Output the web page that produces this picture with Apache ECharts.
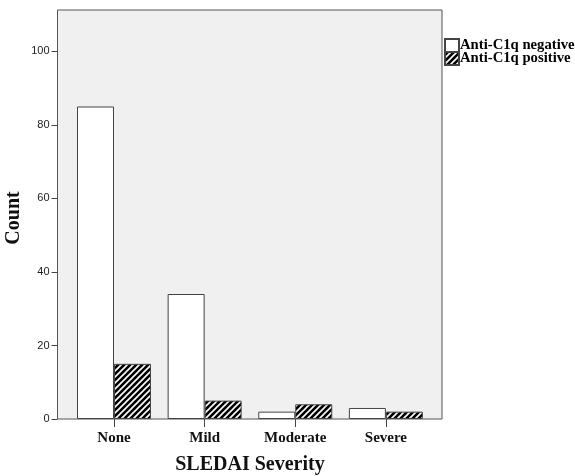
<!DOCTYPE html>
<html>
<head>
<meta charset="utf-8">
<script src="https://cdn.jsdelivr.net/npm/echarts@6/dist/echarts.min.js"></script>
<style>html,body{margin:0;padding:0;background:#fff;}#c{width:575px;height:476px;}</style>
</head>
<body>
<div id="c"></div>
<script>
var categories = ['None', 'Mild', 'Moderate', 'Severe'];
var negativeValues = [85, 34, 2, 3];
var positiveValues = [15, 5, 4, 2];
var seriesNames = ['Anti-C1q negative', 'Anti-C1q positive'];
var yTicks = [0, 20, 40, 60, 80, 100];

function makeHatch() {
  var s = 6;
  var cv = document.createElement('canvas');
  cv.width = s; cv.height = s;
  var ctx = cv.getContext('2d');
  ctx.fillStyle = '#000';
  ctx.fillRect(0, 0, s, s);
  ctx.strokeStyle = '#fff';
  ctx.lineWidth = 1.6;
  ctx.beginPath();
  ctx.moveTo(-1, s + 1); ctx.lineTo(s + 1, -1);
  ctx.moveTo(-1, 1); ctx.lineTo(1, -1);
  ctx.moveTo(s - 1, s + 1); ctx.lineTo(s + 1, s - 1);
  ctx.stroke();
  return cv;
}

var chart = echarts.init(document.getElementById('c'));
var serif = '"Liberation Serif", "Times New Roman", serif';
var yMax = 111.25;
chart.setOption({
  animation: false,
  backgroundColor: '#fff',
  grid: [
    {left: 57.5, right: 133, top: 10, bottom: 57, show: true, backgroundColor: '#f0f0f0', borderColor: '#555', borderWidth: 1,
     containLabel: false, outerBoundsMode: 'none'},
    {left: 68.7, right: 143.8, top: 10, bottom: 57, containLabel: false, outerBoundsMode: 'none'}
  ],
  legend: {
    orient: 'vertical', left: 444, top: 38, padding: 0,
    itemWidth: 14, itemHeight: 13, itemGap: -2, icon: 'rect',
    data: seriesNames,
    textStyle: {fontFamily: serif, fontWeight: 'bold', fontSize: 14.7, color: '#000', lineHeight: 13, padding: [0, 0, 0, -4]}
  },
  xAxis: [
    {type: 'category', gridIndex: 0, data: categories, show: false},
    {type: 'category', gridIndex: 1, data: categories,
     axisLine: {show: false},
     axisTick: {show: true, alignWithLabel: true, length: 8, lineStyle: {color: '#444'}},
     axisLabel: {fontFamily: serif, fontWeight: 'bold', fontSize: 15, color: '#111', margin: 12},
     name: 'SLEDAI Severity', nameLocation: 'middle', nameGap: 36,
     nameTextStyle: {fontFamily: serif, fontWeight: 'bold', fontSize: 20, color: '#111'}}
  ],
  yAxis: [
    {type: 'value', gridIndex: 0, min: 0, max: yMax, interval: 20,
     axisLine: {show: false},
     axisTick: {show: true, length: 6, customValues: yTicks, lineStyle: {color: '#444'}},
     axisLabel: {fontFamily: '"Liberation Sans", Arial, sans-serif', fontSize: 11, color: '#222', margin: 8,
       customValues: yTicks},
     splitLine: {show: false}},
    {type: 'value', gridIndex: 1, min: 0, max: yMax, interval: 20, show: false, splitLine: {show: false}}
  ],
  graphic: [
    {type: 'text', x: 14, y: 218, rotation: Math.PI / 2,
     style: {text: 'Count', textAlign: 'center', textVerticalAlign: 'middle', font: 'bold 20px ' + serif, fill: '#111'}}
  ],
  series: [
    {name: seriesNames[0], type: 'bar', xAxisIndex: 1, yAxisIndex: 1, data: negativeValues,
     barWidth: 37, barGap: '0%',
     itemStyle: {color: '#fff', borderColor: '#444', borderWidth: 1}},
    {name: seriesNames[1], type: 'bar', xAxisIndex: 1, yAxisIndex: 1, data: positiveValues,
     barWidth: 37, barGap: '0%',
     itemStyle: {color: {image: makeHatch(), repeat: 'repeat'}, borderColor: '#444', borderWidth: 1}}
  ]
});
</script>
</body>
</html>
